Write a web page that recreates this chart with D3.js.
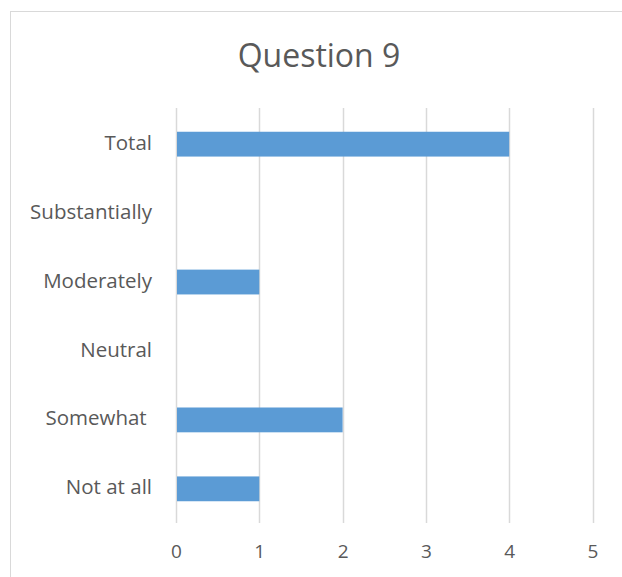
<!DOCTYPE html>
<html>
<head>
<meta charset="utf-8">
<script src="https://cdn.jsdelivr.net/npm/d3@7"></script>
<style>
  body { margin: 0; background: #fff; }
  #chart text { font-family: "Open Sans", Calibri, sans-serif; fill: #595959; }
</style>
</head>
<body>
<div id="chart"></div>
<script>
// Chart data
const categories = ["Total", "Substantially", "Moderately", "Neutral", "Somewhat ", "Not at all"];
const values = [4, 0, 1, 0, 2, 1];
const tickValues = [0, 1, 2, 3, 4, 5];
const title = "Question 9";

const width = 622;
const height = 577;
const margin = { top: 108, right: 30, bottom: 54, left: 176 };

const svg = d3.select("#chart")
    .append("svg")
    .attr("width", width)
    .attr("height", height);

// chart border (only top and left visible in the crop)
svg.append("rect")
    .attr("x", 10.5)
    .attr("y", 11.5)
    .attr("width", width)
    .attr("height", height)
    .attr("fill", "none")
    .attr("stroke", "#d9d9d9")
    .attr("stroke-width", 1);

svg.append("text")
    .attr("x", 319)
    .attr("y", 56)
    .attr("text-anchor", "middle")
    .attr("dy", "0.35em")
    .style("font-size", "32px")
    .text(title);

const x = d3.scaleLinear()
    .domain([0, 5])
    .range([margin.left, 592.5]);

const y = d3.scaleBand()
    .domain(categories)
    .range([margin.top, height - margin.bottom])
    .paddingInner(0.64)
    .paddingOuter(0.33);

const plotBottom = height - margin.bottom;

// vertical gridlines
svg.selectAll("line.grid")
    .data(tickValues)
    .enter()
    .append("line")
    .attr("class", "grid")
    .attr("x1", d => Math.round(x(d)) + 0.5)
    .attr("x2", d => Math.round(x(d)) + 0.5)
    .attr("y1", margin.top)
    .attr("y2", plotBottom)
    .style("stroke", "#d9d9d9")
    .style("stroke-width", 1.5);

// bars
svg.selectAll(".bar")
    .data(categories.map((c, i) => ({ cat: c, value: values[i] })).filter(d => d.value > 0))
    .enter()
    .append("rect")
    .attr("class", "bar")
    .attr("x", x(0) + 1)
    .attr("y", d => y(d.cat) + 1)
    .attr("width", d => x(d.value) - x(0) - 1)
    .attr("height", y.bandwidth())
    .attr("fill", "#5b9bd5");

// x axis labels
const xAxis = svg.append("g")
    .attr("transform", `translate(0,${plotBottom})`)
    .call(d3.axisBottom(x).tickValues(tickValues).tickSize(0).tickPadding(22).tickFormat(d3.format("d")))
    .style("font-size", "19px");
xAxis.select(".domain").remove();
xAxis.selectAll("text").style("font-family", "'Open Sans', sans-serif").style("fill", "#595959");

// y axis labels
const yAxis = svg.append("g")
    .attr("transform", `translate(${margin.left},0)`)
    .call(d3.axisLeft(y).tickSize(0).tickPadding(24))
    .style("font-size", "20.5px");
yAxis.select(".domain").remove();
yAxis.selectAll("text")
    .style("white-space", "pre")
    .style("font-family", "'Open Sans', sans-serif")
    .style("fill", "#595959");
</script>
</body>
</html>
